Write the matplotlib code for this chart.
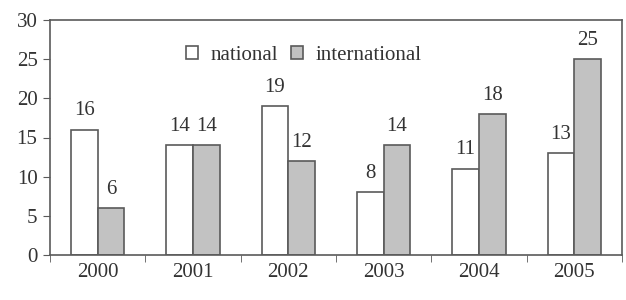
import matplotlib.pyplot as plt
import numpy as np

years = ["2000", "2001", "2002", "2003", "2004", "2005"]
national = [16, 14, 19, 8, 11, 13]
international = [6, 14, 12, 14, 18, 25]

plt.rcParams['font.family'] = ['Liberation Serif', 'DejaVu Serif']
txtColor = "#333333"
edgeColor = "#5a5a5a"
fs = 15

fig = plt.figure(figsize=(6.26, 3.0), dpi=100)
ax = fig.add_axes([50 / 626, 1 - 255 / 300, 572 / 626, 235 / 300])

x = np.arange(len(years))
w = 0.28
b1 = ax.bar(x - w / 2, national, w, color="white", edgecolor=edgeColor, linewidth=1.2, label="national")
b2 = ax.bar(x + w / 2, international, w, color="#c2c2c2", edgecolor=edgeColor, linewidth=1.2, label="international")

for bars, vals in [(b1, national), (b2, international)]:
    for r, v in zip(bars, vals):
        ax.text(r.get_x() + r.get_width() / 2, v + 1.2, str(v), ha="center", va="bottom",
                fontsize=fs, color=txtColor)

ax.set_xlim(-0.5, len(years) - 0.5)
ax.set_ylim(0, 30)
ax.set_yticks(range(0, 31, 5))
ax.set_xticks(x)
ax.set_xticklabels(years)
ax.set_xticks(np.arange(-0.5, len(years)), minor=True)
ax.tick_params(axis="x", which="major", length=0, pad=6, labelsize=fs, colors=txtColor)
ax.tick_params(axis="x", which="minor", length=5, color=edgeColor, direction="out")
ax.tick_params(axis="y", length=5, color=edgeColor, labelsize=fs, colors=txtColor, pad=4)
for s in ax.spines.values():
    s.set_color(edgeColor)
    s.set_linewidth(1.2)

ax.legend(loc="upper center", bbox_to_anchor=(0.444, 0.97), ncol=2, frameon=False, fontsize=fs,
          handlelength=0.6, handleheight=0.6, columnspacing=0.6, handletextpad=0.6,
          labelcolor=txtColor)

fig.savefig("out.png", dpi=100)
